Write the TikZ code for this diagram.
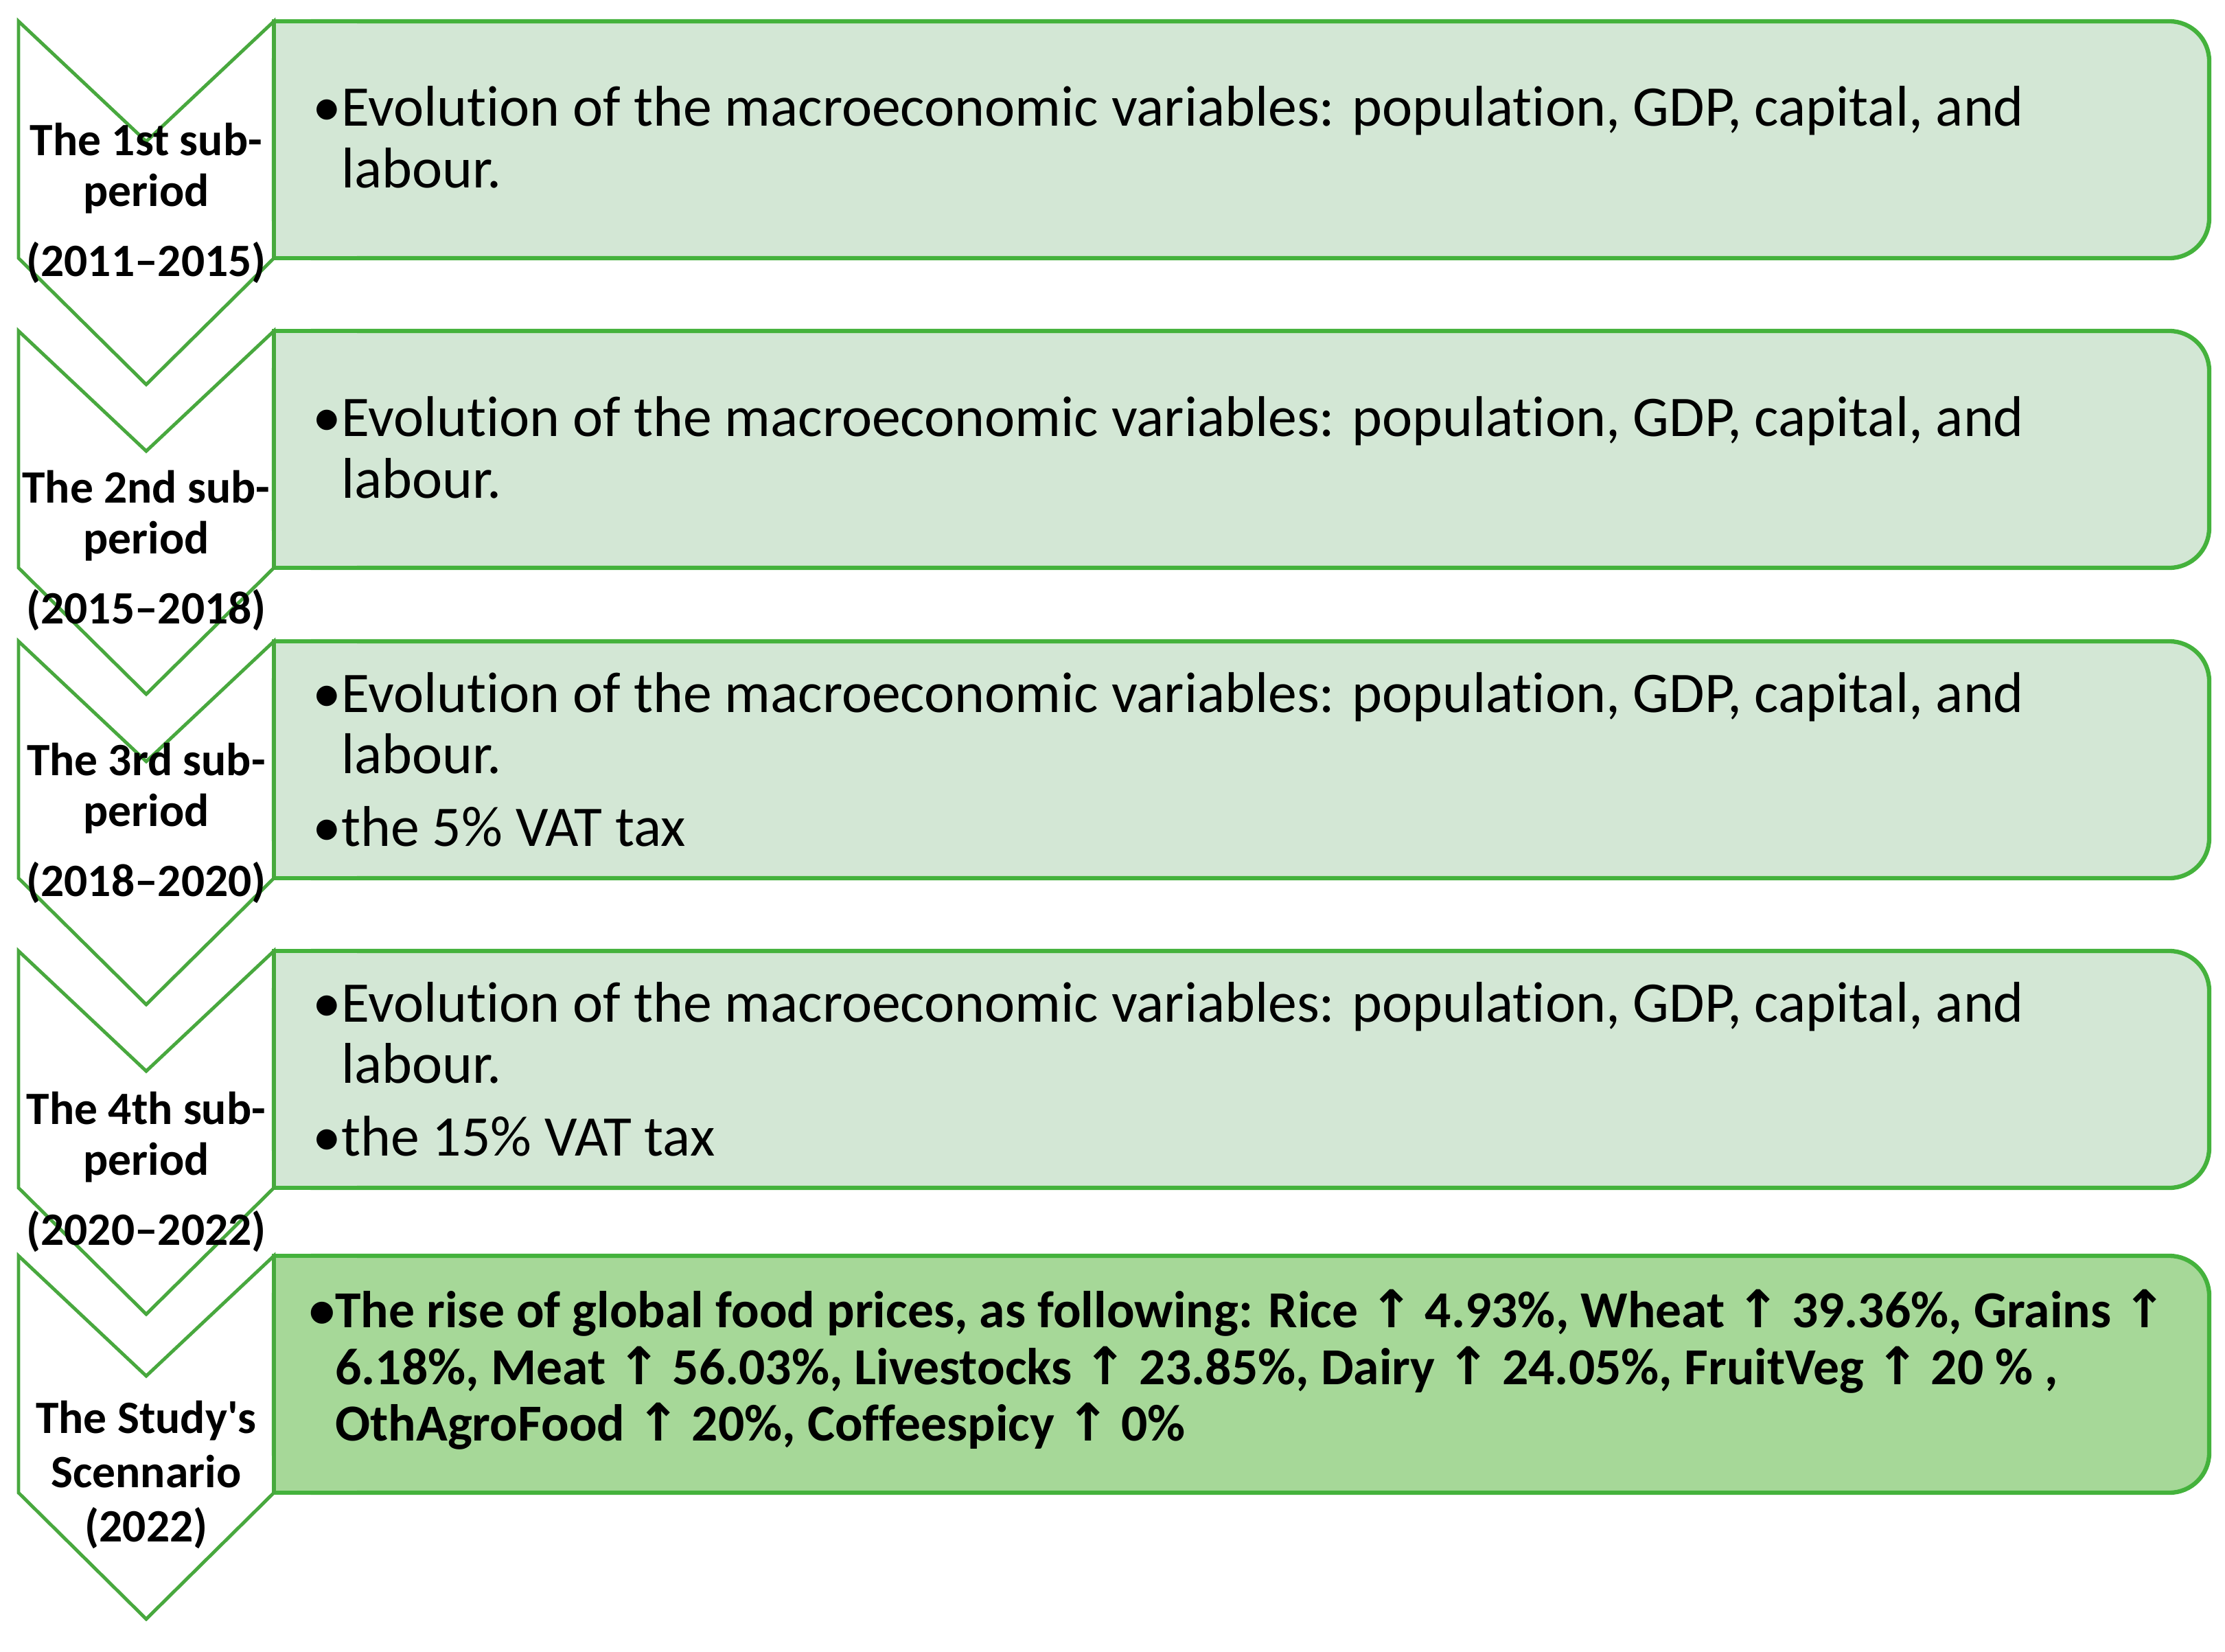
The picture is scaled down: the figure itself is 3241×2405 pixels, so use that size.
\documentclass[tikz,border=0pt]{standalone}
\usepackage{fontspec}
\setmainfont{Carlito}[Ligatures=NoCommon]
\newfontfamily\calfont{Carlito}[Ligatures=NoCommon]
\newfontfamily\arrowfont{DejaVu Sans}
\definecolor{boxline}{RGB}{68,178,60}
\definecolor{chevline}{RGB}{72,168,62}
\definecolor{lightfill}{RGB}{211,231,213}
\definecolor{darkfill}{RGB}{166,216,152}
\newcommand{\up}{{\arrowfont\bfseries ↑}}
\begin{document}
\begin{tikzpicture}[x=0.01cm,y=-0.01cm,
  chev/.style={draw=chevline,line width=1.4pt,line join=miter},
  boxsty/.style={draw=boxline,line width=1.8pt},
  lab/.style={font=\calfont\fontsize{19.2}{21}\selectfont\bfseries,align=center,inner sep=0pt},
  btxt/.style={font=\calfont\fontsize{23.8}{25.5}\selectfont,align=left,anchor=west,inner sep=0pt},
  bbold/.style={font=\calfont\fontsize{21.5}{23.5}\selectfont\bfseries,align=left,anchor=west,inner sep=0pt}]
\useasboundingbox (0,0) rectangle (3241,2405);
% boxes: square on the left, rounded on the right
\foreach \t/\f in {31/lightfill,482/lightfill,934/lightfill,1385/lightfill,1829/darkfill}{
  \draw[boxsty,fill=\f,rounded corners=0.58cm] (399,\t) rectangle (3218,\t+345);
  \fill[\f] (399,\t) rectangle (520,\t+345);
  \draw[boxsty] (520,\t) -- (399,\t) -- (399,\t+345) -- (520,\t+345);
}
% chevrons
\foreach \t in {31,482,934,1385,1829}{
  \draw[chev] (27,\t) -- (213,\t+175) -- (399,\t) -- (399,\t+345) -- (213,\t+529) -- (27,\t+345) -- cycle;
}
% labels
\node[lab] (l1) at (213,296) {The 1st sub-\\period\\[8pt](2011–2015)};
\node[lab] (l2) at (213,802) {The 2nd sub-\\period\\[8pt](2015–2018)};
\node[lab] (l3) at (213,1199) {The 3rd sub-\\period\\[8pt](2018–2020)};
\node[lab] (l4) at (213,1707) {The 4th sub-\\period\\[8pt](2020–2022)};
\node[lab] (l5) at (213,2148) {The Study's\\[1.4pt]Scennario\\[1.4pt](2022)};
% box texts
\node[btxt] (t1) at (455,200) {•Evolution of the macroeconomic variables: population, GDP, capital, and\\\phantom{•}labour.};
\node[btxt] (t2) at (455,652) {•Evolution of the macroeconomic variables: population, GDP, capital, and\\\phantom{•}labour.};
\node[btxt] (t3) at (455,1106) {•Evolution of the macroeconomic variables: population, GDP, capital, and\\\phantom{•}labour.\\[4.5pt]•the 5\% VAT tax};
\node[btxt] (t4) at (455,1557) {•Evolution of the macroeconomic variables: population, GDP, capital, and\\\phantom{•}labour.\\[4.5pt]•the 15\% VAT tax};
\node[bbold] (t5) at (450,1995) {•The rise of global food prices, as following: Rice \up{} 4.93\%, Wheat \up{} 39.36\%, Grains \up\\\phantom{•}6.18\%, Meat \up{} 56.03\%, Livestocks \up{} 23.85\%, Dairy \up{} 24.05\%, FruitVeg \up{} 20 \% ,\\\phantom{•}OthAgroFood \up{} 20\%, Coffeespicy \up{} 0\%};
\end{tikzpicture}
\end{document}
